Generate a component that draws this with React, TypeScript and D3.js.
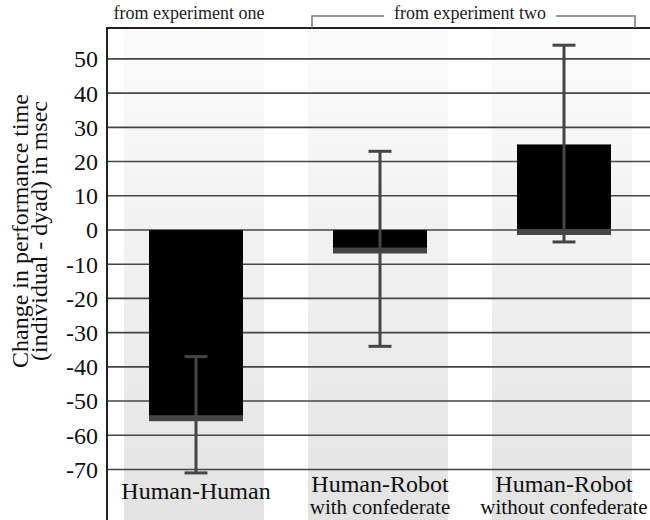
import React from "react";
import * as d3 from "d3";

const categories = ["Human-Human", "Human-Robot", "Human-Robot"];
const subLabels = ["", "with confederate", "without confederate"];
const means = [-55, -6, 25];
const errLow = [-71, -34, -3.5];
const errHigh = [-37, 23, 54];
const yTicks = [50, 40, 30, 20, 10, 0, -10, -20, -30, -40, -50, -60, -70];
const groupLabels = ["from experiment one", "from experiment two"];

const W = 650;
const H = 520;
const FONT = '"Liberation Serif", "Times New Roman", Times, "DejaVu Serif", serif';

export default function App() {
  const axisX = 107;
  const plotTop = 28;
  const x = d3
    .scaleBand<number>()
    .domain(d3.range(categories.length))
    .range([104, 656])
    .paddingInner(0)
    .paddingOuter(0);
  const y = d3.scaleLinear().domain([-70, 50]).range([469.5, 58.9]);
  const cx = (i: number) => (x(i) as number) + x.bandwidth() / 2;
  const barW = 94;
  const bgW = 140;
  const capW = 23;
  const lineColor = "#454545";
  const ts = { fontFamily: FONT };

  return (
    <svg
      width={W}
      height={H}
      style={{ position: "absolute", left: 0, top: 0, background: "#fff", fontFamily: FONT }}
    >
      <defs>
        <linearGradient id="bandGrad" x1="0" y1="0" x2="0" y2="1">
          <stop offset="0%" stopColor="#fbfbfb" />
          <stop offset="45%" stopColor="#f1f1f1" />
          <stop offset="100%" stopColor="#e3e3e3" />
        </linearGradient>
      </defs>
      {categories.map((_, i) => (
        <rect
          key={"bg" + i}
          x={cx(i) - bgW / 2 - 2}
          y={plotTop}
          width={bgW}
          height={H - plotTop}
          fill="url(#bandGrad)"
        />
      ))}
      {yTicks.map((t) => (
        <line
          key={"g" + t}
          x1={axisX}
          x2={W}
          y1={y(t)}
          y2={y(t)}
          stroke={lineColor}
          strokeWidth={1.6}
        />
      ))}
      <line x1={axisX} x2={W} y1={plotTop} y2={plotTop} stroke="#222" strokeWidth={2} />
      {means.map((m, i) => {
        const top = y(Math.max(m, 0));
        const bottom = y(Math.min(m, 0));
        return (
          <g key={"bar" + i}>
            <rect x={cx(i) - barW / 2} y={top} width={barW} height={bottom - top} fill="#000" />
            <rect
              x={cx(i) - barW / 2}
              y={bottom - 3 + (m > 0 ? 2 : 0)}
              width={barW}
              height={6}
              fill={lineColor}
            />
          </g>
        );
      })}
      {means.map((_, i) => (
        <g key={"err" + i} stroke={lineColor} strokeWidth={3}>
          <line x1={cx(i)} x2={cx(i)} y1={y(errHigh[i])} y2={y(errLow[i])} />
          <line x1={cx(i) - capW / 2} x2={cx(i) + capW / 2} y1={y(errHigh[i])} y2={y(errHigh[i])} />
          <line x1={cx(i) - capW / 2} x2={cx(i) + capW / 2} y1={y(errLow[i])} y2={y(errLow[i])} />
        </g>
      ))}
      <line x1={axisX} x2={axisX} y1={plotTop - 1} y2={H} stroke="#222" strokeWidth={2} />
      {yTicks.map((t) => (
        <text
          key={"t" + t}
          x={98}
          y={y(t)}
          dy="0.35em"
          textAnchor="end"
          fontSize={24}
          fill="#111"
          style={ts}
        >
          {t}
        </text>
      ))}
      <g transform={`translate(0, 231) rotate(-90)`}>
        <text x={0} y={28} textAnchor="middle" fontSize={24} fill="#111" style={ts}>
          Change in performance time
        </text>
        <text x={0} y={47} textAnchor="middle" fontSize={24} fill="#111" style={ts}>
          (individual - dyad) in msec
        </text>
      </g>
      {categories.map((c, i) => (
        <g key={"c" + i}>
          <text
            x={cx(i)}
            y={subLabels[i] ? 492 : 499}
            textAnchor="middle"
            fontSize={24}
            fill="#111"
            style={ts}
          >
            {c}
          </text>
          {subLabels[i] && (
            <text x={cx(i)} y={514} textAnchor="middle" fontSize={21} fill="#111" style={ts}>
              {subLabels[i]}
            </text>
          )}
        </g>
      ))}
      <text x={189} y={19} textAnchor="middle" fontSize={18} fill="#222" style={ts}>
        {groupLabels[0]}
      </text>
      <text x={470} y={19} textAnchor="middle" fontSize={18} fill="#222" style={ts}>
        {groupLabels[1]}
      </text>
      <path
        d={`M312,28 V16 H384 M556,16 H635 V28`}
        fill="none"
        stroke="#777"
        strokeWidth={1.5}
      />
    </svg>
  );
}
